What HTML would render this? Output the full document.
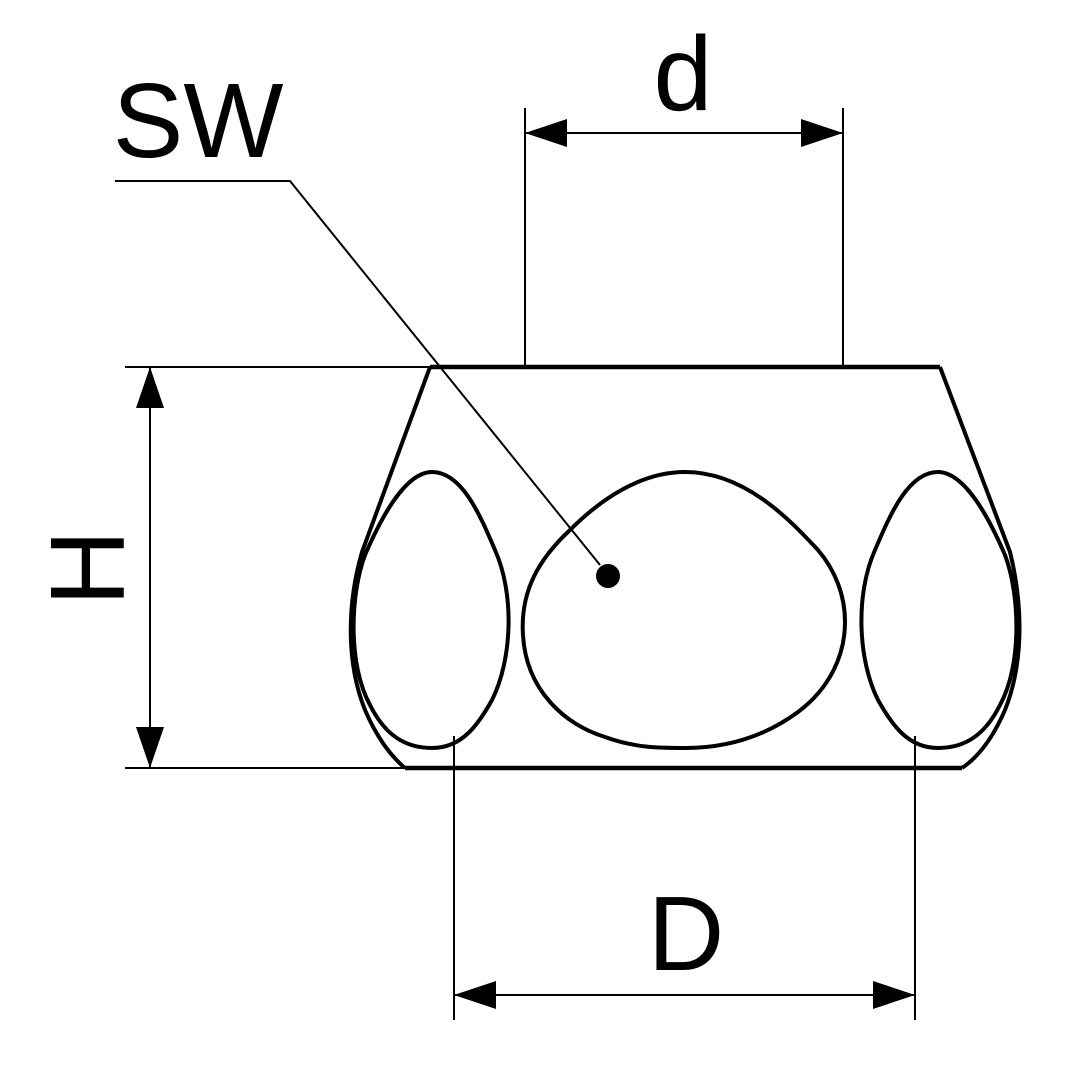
<!DOCTYPE html>
<html><head><style>html,body{margin:0;padding:0;background:#fff}svg{display:block}</style></head>
<body>
<svg width="1080" height="1080" viewBox="0 0 1080 1080" xmlns="http://www.w3.org/2000/svg">
<rect width="1080" height="1080" fill="#fff"/>
<g fill="none" stroke="#000">
<line x1="125" y1="367" x2="430" y2="367" stroke-width="2"/>
<line x1="125" y1="768" x2="405" y2="768" stroke-width="2"/>
<line x1="525" y1="108" x2="525" y2="367" stroke-width="2"/>
<line x1="843" y1="108" x2="843" y2="367" stroke-width="2"/>
<line x1="454" y1="736" x2="454" y2="1020" stroke-width="2"/>
<line x1="915" y1="736" x2="915" y2="1020" stroke-width="2"/>
<line x1="150" y1="367" x2="150" y2="768" stroke-width="2"/>
<line x1="525" y1="133" x2="843" y2="133" stroke-width="2"/>
<line x1="454" y1="995" x2="915" y2="995" stroke-width="2"/>
<polyline points="115,181 290,181 600,565" stroke-width="2"/>
<line x1="430" y1="367" x2="940" y2="367" stroke-width="4.5"/>
<line x1="405" y1="768" x2="962" y2="768" stroke-width="4.5"/>
<path d="M430,367 L362,552 C348,600 345,660 365,710 C378,740 393,758 405,768" stroke-width="4"/>
<path d="M940,367 L1010,552 C1022,600 1025,660 1005,710 C992,740 977,758 962,768" stroke-width="4"/>
<path d="M432,472 C405,472 380,520 365,555 C350,595 348,665 370,705 C385,735 405,748 432,748 C462,748 478,725 492,700 C512,660 515,595 495,550 C480,515 462,472 432,472 Z" stroke-width="4"/>
<path d="M938,472 C965,472 990,520 1005,555 C1020,595 1022,665 1000,705 C985,735 965,748 938,748 C908,748 892,725 878,700 C858,660 855,595 875,550 C890,515 908,472 938,472 Z" stroke-width="4"/>
<path d="M685,472 C640,472 600,500 570,530 C540,558 520,590 523,635 C526,690 565,725 605,737 C635,748 660,748 685,748 C720,748 760,740 798,712 C830,688 845,655 845,622 C845,595 835,570 818,550 C790,520 745,472 685,472 Z" stroke-width="4"/>
</g>
<circle cx="608" cy="576" r="12" fill="#000"/>
<g fill="#000">
<polygon points="525,133 567,119 567,147"/>
<polygon points="843,133 801,119 801,147"/>
<polygon points="454,995 496,981 496,1009"/>
<polygon points="915,995 873,981 873,1009"/>
<polygon points="150,367 136,408 164,408"/>
<polygon points="150,768 136,727 164,727"/>
</g>
<g font-family="Liberation Sans, sans-serif" font-size="106" fill="#000">
<text x="683" y="110" text-anchor="middle">d</text>
<text x="198" y="157" text-anchor="middle">SW</text>
<text x="686" y="970" text-anchor="middle">D</text>
<text transform="translate(124,568) rotate(-90)" text-anchor="middle">H</text>
</g>
</svg>
</body></html>
